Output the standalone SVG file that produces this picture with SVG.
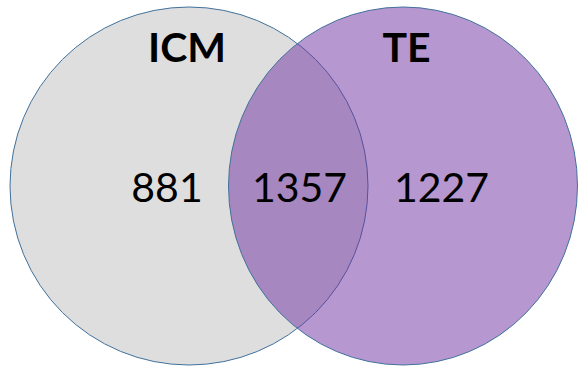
<svg xmlns="http://www.w3.org/2000/svg" width="578" height="368" viewBox="0 0 578 368">
  <style>
    .set { stroke: #41719C; stroke-width: 1; }
    .icm { fill: #DEDEDE; }
    .te { fill: #7030A0; fill-opacity: 0.5; }
    .label { font-family: Lato, "Open Sans", sans-serif; font-weight: bold; font-size: 41px; fill: #000; text-anchor: middle; }
    .count { font-family: Lato, "Open Sans", sans-serif; font-size: 41px; fill: #000; text-anchor: middle; }
  </style>
  <rect width="578" height="368" fill="#FFFFFF"/>
  <g id="set-icm">
    <circle class="set icm" cx="189" cy="186" r="179"/>
  </g>
  <g id="set-te">
    <ellipse class="set te" cx="403" cy="186" rx="174.5" ry="179"/>
  </g>
  <g id="labels">
    <text class="label" x="187" y="62">ICM</text>
    <text class="label" x="406.5" y="62">TE</text>
  </g>
  <g id="counts">
    <text class="count" x="167" y="202">881</text>
    <text class="count" x="299.5" y="202">1357</text>
    <text class="count" x="441.5" y="202">1227</text>
  </g>
</svg>
